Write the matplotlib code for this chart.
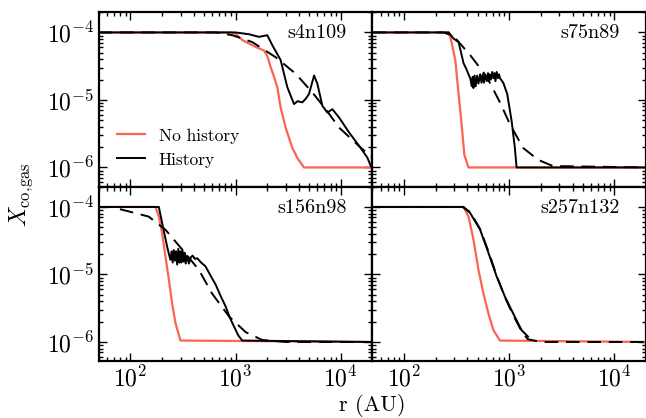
import matplotlib
matplotlib.use("Agg")
import matplotlib.pyplot as plt

plt.rcParams['font.family'] = 'serif'
plt.rcParams['font.serif'] = ['cmr10']
plt.rcParams['mathtext.fontset'] = 'cm'
plt.rcParams['axes.formatter.use_mathtext'] = True
plt.rcParams['axes.unicode_minus'] = False

salmon = '#FA6450'

modelos = ['s4n109', 's75n89', 's156n98', 's257n132']

# s4n109
r_nohist_1 = [50, 900, 1000, 1160, 1550, 1860, 2000, 2150, 2320, 2490, 2680, 2990, 3460, 3900, 4470, 20000]
x_nohist_1 = [1e-4, 1e-4, 9.6e-5, 7.7e-5, 6.1e-5, 5.4e-5, 4.5e-5, 3.1e-5, 2.2e-5, 1.55e-5, 7.7e-6,
              3.9e-6, 1.95e-6, 1.35e-6, 1.0e-6, 1.0e-6]
r_hist_1 = [50, 1000, 1340, 1670, 2000, 2230, 2680, 3100, 3590, 3900, 4300, 4640, 4990, 5570,
            5990, 6680, 7450, 8320, 9630, 12000, 14900, 17900, 19300]
x_hist_1 = [1e-4, 1e-4, 9.4e-5, 8.6e-5, 9.1e-5, 6.5e-5, 3.9e-5, 1.55e-5, 8.7e-6, 9.6e-6, 9.2e-6, 1.04e-5,
            1.23e-5, 2.3e-5, 1.74e-5, 8.2e-6, 6.5e-6, 7.3e-6, 5.5e-6, 3.3e-6, 2.1e-6, 1.4e-6, 1.05e-6]
r_mod_1 = [50, 650, 930, 1440, 2400, 3720, 5370, 7190, 9630, 16100, 20000]
x_mod_1 = [1e-4, 1e-4, 9.1e-5, 7.2e-5, 4.3e-5, 2.45e-5, 1.29e-5, 7.3e-6, 3.9e-6, 1.86e-6, 1.4e-6]

# s75n89
r_nohist_2 = [50, 266, 280, 307, 330, 355, 374, 410, 20000]
x_nohist_2 = [1e-4, 1e-4, 7.7e-5, 3.9e-5, 1.23e-5, 3.9e-6, 1.55e-6, 1.0e-6, 1.0e-6]
r_hist_2 = [50, 266, 296, 330, 368, 390, 410, 426, 440, 450, 457, 468, 480, 495, 510, 529, 545,
            560, 575, 590, 612, 628, 640, 655, 670, 690, 707, 725, 740, 760, 780, 800, 817, 878,
            957, 1054, 1132, 1175, 20000]
x_hist_2 = [1e-4, 1e-4, 8.1e-5, 7.2e-5, 3.5e-5, 2.9e-5, 2.4e-5, 2.1e-5, 1.6e-5, 2.2e-5, 1.5e-5,
            2.3e-5, 1.6e-5, 2.3e-5, 1.75e-5, 2.4e-5, 1.8e-5, 2.4e-5, 1.8e-5, 2.3e-5, 1.9e-5,
            2.5e-5, 1.9e-5, 2.4e-5, 2.0e-5, 2.6e-5, 2.1e-5, 2.5e-5, 1.9e-5, 2.6e-5, 2.1e-5,
            2.4e-5, 2.1e-5, 1.8e-5, 1.23e-5, 4.9e-6, 1.95e-6, 1.0e-6, 1.0e-6]
r_mod_2 = [50, 238, 296, 426, 612, 817, 1014, 1355, 1880, 2600, 20000]
x_mod_2 = [1e-4, 1e-4, 8.8e-5, 4.6e-5, 2.2e-5, 9.2e-6, 4.4e-6, 1.95e-6, 1.3e-6, 1.05e-6, 1.0e-6]

# s156n98
r_nohist_3 = [50, 173, 186, 200, 215, 232, 249, 268, 299, 20000]
x_nohist_3 = [1e-4, 1e-4, 7.2e-5, 4.1e-5, 1.86e-5, 8.3e-6, 3.7e-6, 1.9e-6, 1.05e-6, 1.0e-6]
r_hist_3 = [50, 186, 200, 223, 232, 240, 246, 252, 258, 265, 271, 278, 285, 292, 298, 305, 312,
            320, 327, 335, 345, 359, 375, 390, 410, 431, 470, 517, 580, 645, 720, 804, 880, 964,
            1060, 1157, 20000]
x_hist_3 = [1e-4, 1e-4, 5.8e-5, 2.6e-5, 2.0e-5, 1.65e-5, 2.2e-5, 1.5e-5, 2.3e-5, 1.6e-5, 2.2e-5,
            1.4e-5, 2.4e-5, 1.5e-5, 2.2e-5, 1.5e-5, 2.3e-5, 1.55e-5, 2.1e-5, 1.45e-5, 1.9e-5,
            1.45e-5, 1.8e-5, 1.9e-5, 1.7e-5, 1.74e-5, 1.5e-5, 1.32e-5, 9.5e-6, 7.1e-6, 4.8e-6,
            3.35e-6, 2.3e-6, 1.7e-6, 1.25e-6, 1.05e-6, 1.0e-6]
r_mod_3 = [50, 66, 149, 215, 310, 447, 598, 863, 1245, 1790, 3000, 20000]
x_mod_3 = [1e-4, 1e-4, 7.2e-5, 4.6e-5, 2.35e-5, 1.17e-5, 5.2e-6, 2.4e-6, 1.4e-6, 1.07e-6, 1.0e-6, 1.0e-6]

# s257n132
r_nohist_4 = [50, 368, 410, 457, 510, 569, 634, 707, 817, 20000]
x_nohist_4 = [1e-4, 1e-4, 7.2e-5, 3.3e-5, 1.17e-5, 5.2e-6, 2.65e-6, 1.5e-6, 1.05e-6, 1.0e-6]
r_hist_4 = [50, 368, 426, 529, 634, 760, 910, 1090, 1309, 1510]
x_hist_4 = [1e-4, 1e-4, 8.1e-5, 4.6e-5, 2.1e-5, 9.3e-6, 4.7e-6, 2.65e-6, 1.5e-6, 1.2e-6]
r_mod_4 = [50, 360, 426, 529, 634, 760, 910, 1090, 1309, 1500, 2000, 20000]
x_mod_4 = [1e-4, 1e-4, 8.4e-5, 4.7e-5, 2.2e-5, 9.6e-6, 4.6e-6, 2.5e-6, 1.45e-6, 1.1e-6, 1.0e-6, 1.0e-6]

datos = [
    (r_nohist_1, x_nohist_1, r_hist_1, x_hist_1, r_mod_1, x_mod_1),
    (r_nohist_2, x_nohist_2, r_hist_2, x_hist_2, r_mod_2, x_mod_2),
    (r_nohist_3, x_nohist_3, r_hist_3, x_hist_3, r_mod_3, x_mod_3),
    (r_nohist_4, x_nohist_4, r_hist_4, x_hist_4, r_mod_4, x_mod_4),
]

fig, axes = plt.subplots(2, 2, figsize=(6.46, 4.18), dpi=100, sharex=True, sharey=True)
fig.subplots_adjust(left=0.153, right=1.0, top=0.971, bottom=0.136, wspace=0, hspace=0)

for ax, nombre, d in zip(axes.flat, modelos, datos):
    rn, xn, rh, xh, rm, xm = d
    ax.plot(rn, xn, color=salmon, lw=1.6, label='No history')
    ax.plot(rm, xm, color='black', lw=1.4, ls=(0, (7, 4)))
    ax.plot(rh, xh, color='black', lw=1.4, label='History')
    ax.set_xscale('log')
    ax.set_yscale('log')
    ax.set_xlim(50, 2e4)
    ax.set_ylim(5.2e-7, 2e-4)
    ax.text(0.905, 0.88, nombre, transform=ax.transAxes, ha='right', va='center', fontsize=14.5)
    ax.tick_params(which='both', direction='in', top=True, right=True, labelsize=17, width=1)
    ax.tick_params(which='major', length=6)
    ax.tick_params(which='minor', length=3)
    for s in ax.spines.values():
        s.set_linewidth(1.6)

axes[0, 0].legend(loc='lower left', frameon=False, fontsize=12.5, handlelength=1.6,
                  bbox_to_anchor=(0.01, 0.02))
fig.text(0.032, 0.535, r'$X_{\rm co,\!gas}$', rotation=90, ha='center', va='center', fontsize=17)
fig.text(0.577, 0.03, 'r (AU)', ha='center', va='center', fontsize=16)

plt.savefig('out.png', dpi=100)
